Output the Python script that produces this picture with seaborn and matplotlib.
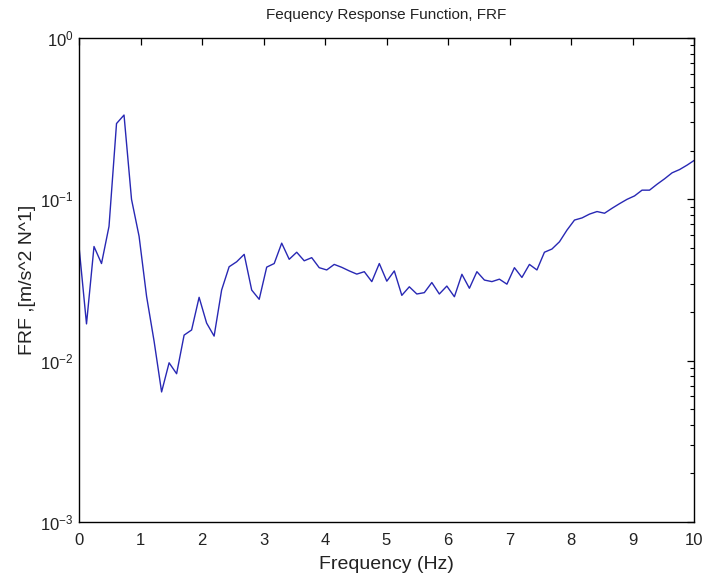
import numpy as np
import pandas as pd
import matplotlib
matplotlib.use("Agg")
import matplotlib.pyplot as plt
import seaborn as sns
from matplotlib.ticker import LogLocator

# ---- data ----
freq_hz = [0.000, 0.122, 0.244, 0.366, 0.488, 0.610, 0.732, 0.854, 0.977, 1.099,
           1.221, 1.343, 1.465, 1.587, 1.709, 1.831, 1.953, 2.075, 2.197, 2.319,
           2.441, 2.563, 2.686, 2.808, 2.930, 3.052, 3.174, 3.296, 3.418, 3.540,
           3.662, 3.784, 3.906, 4.028, 4.150, 4.272, 4.395, 4.517, 4.639, 4.761,
           4.883, 5.005, 5.127, 5.249, 5.371, 5.493, 5.615, 5.737, 5.859, 5.981,
           6.104, 6.226, 6.348, 6.470, 6.592, 6.714, 6.836, 6.958, 7.080, 7.202,
           7.324, 7.446, 7.568, 7.690, 7.813, 7.935, 8.057, 8.179, 8.301, 8.423,
           8.545, 8.667, 8.789, 8.911, 9.033, 9.155, 9.277, 9.399, 9.521, 9.644,
           9.766, 9.888, 10.010]
frf = [0.051, 0.0169, 0.051, 0.040, 0.068, 0.295, 0.333, 0.100, 0.059, 0.025,
       0.0132, 0.0064, 0.0097, 0.0083, 0.0144, 0.0155, 0.0247, 0.0171, 0.0142, 0.0274,
       0.0382, 0.041, 0.0456, 0.0274, 0.024, 0.038, 0.040, 0.0535, 0.0425, 0.047,
       0.0416, 0.0435, 0.0377, 0.0365, 0.0395, 0.0379, 0.036, 0.0344, 0.0356, 0.0309,
       0.040, 0.0311, 0.036, 0.0254, 0.0287, 0.0259, 0.0264, 0.0305, 0.0259, 0.029,
       0.0249, 0.0343, 0.0281, 0.0356, 0.0316, 0.0309, 0.032, 0.0298, 0.0377, 0.0328,
       0.0395, 0.0365, 0.047, 0.0492, 0.0546, 0.0645, 0.0744, 0.0767, 0.081, 0.084,
       0.082, 0.088, 0.094, 0.100, 0.105, 0.114, 0.114, 0.124, 0.134, 0.146,
       0.153, 0.163, 0.175]
x_ticks = [0, 1, 2, 3, 4, 5, 6, 7, 8, 9, 10]
title_text = "Fequency Response Function, FRF"
x_label = "Frequency (Hz)"
y_label = "FRF ,[m/s^2 N^1]"

df = pd.DataFrame({"freq": freq_hz, "frf": frf})

sns.set_style("white")
plt.rcParams["font.family"] = ["Liberation Sans", "DejaVu Sans"]
plt.rcParams["mathtext.fontset"] = "custom"
plt.rcParams["mathtext.rm"] = "Liberation Sans"
plt.rcParams["mathtext.it"] = "Liberation Sans"
plt.rcParams["mathtext.default"] = "regular"

fig = plt.figure(figsize=(7.07, 5.82), dpi=100)
ax = fig.add_axes([79 / 707, 1 - 522 / 582, (694 - 79) / 707, (522 - 38) / 582])

sns.lineplot(data=df, x="freq", y="frf", ax=ax, color="#2828b4", linewidth=1.0)

ax.set_yscale("log")
ax.set_xlim(0, 10)
ax.set_ylim(1e-3, 1e0)
ax.set_xticks(x_ticks)
ax.set_xticklabels([str(t) for t in x_ticks])
ax.yaxis.set_major_locator(LogLocator(base=10, numticks=10))
ax.yaxis.set_minor_locator(LogLocator(base=10, subs=np.arange(2, 10), numticks=20))

ax.tick_params(which="both", direction="in", top=True, right=True,
               labelsize=12, colors="black", labelcolor="#222222")
ax.tick_params(which="major", length=5, width=0.9)
ax.tick_params(axis="x", which="major", pad=8)
ax.tick_params(axis="y", which="major", pad=4)
ax.tick_params(which="minor", length=3, width=0.8)
for s in ax.spines.values():
    s.set_visible(True)
    s.set_color("black")
    s.set_linewidth(1.0)

ax.set_title(title_text, fontsize=11, pad=14, color="#222222")
ax.set_xlabel(x_label, fontsize=14, labelpad=6, color="#222222")
ax.set_ylabel(y_label, fontsize=14, labelpad=3, color="#222222")

fig.savefig("out.png", dpi=100, facecolor="white")
